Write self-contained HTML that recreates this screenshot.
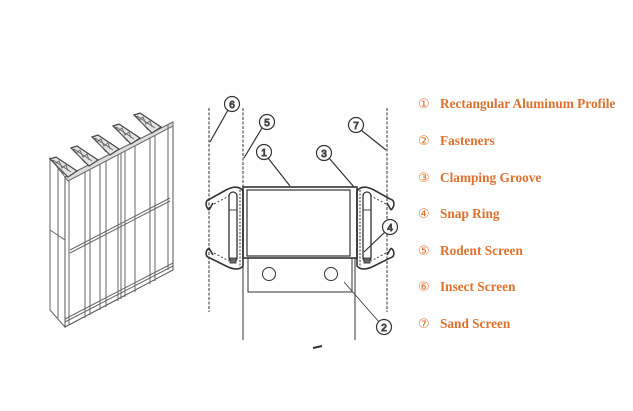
<!DOCTYPE html>
<html><head><meta charset="utf-8"><style>
html,body{margin:0;padding:0;background:#fff;width:633px;height:411px;overflow:hidden}
.lg{position:absolute;left:418px;font-family:"Liberation Serif",serif;font-weight:bold;font-size:13.3px;color:#e0712d;white-space:nowrap}
.lg span{font-weight:normal;display:inline-block;width:22px;font-family:"DejaVu Sans",sans-serif;font-size:13px}
</style></head><body>
<svg width="633" height="411" style="position:absolute;left:0;top:0" fill="none" stroke="#444" stroke-width="1">
<defs>
<g id="tri"><path d="M0,2 L6,0 L27,14 L18,20 Z" fill="#e4e4e4" stroke="#444" stroke-width="1.2"/><path d="M3,3 L21,15 M5,7 L9,4 L12,11 L16,8 L18,14 M2,3 L14,17" stroke="#666" stroke-width="0.9"/></g>
<g id="clamp">
<rect x="229" y="192" width="8" height="70" rx="4" fill="#fff" stroke="#333" stroke-width="1.3"/>
<line x1="229" y1="210" x2="237" y2="210"/>
<path d="M209,210 C205,206 205,200 210,199 L226,190 Q238,184 243,191 L243,266 Q238,272 226,266 L210,258 C205,257 205,251 209,248" stroke="#333" stroke-width="1.6"/>
<path d="M209,210 L213,203 M209,248 L213,255" stroke="#333" stroke-width="1.6"/>
<path d="M214,204 L229,196 M214,253 L229,261" stroke-dasharray="2,2"/>
<line x1="240" y1="190" x2="240" y2="266" stroke-dasharray="2,1.5" stroke="#333"/>
<rect x="230" y="258" width="6" height="5" fill="#666"/>
</g>
</defs>
<!-- left isometric -->
<g stroke="#666" stroke-width="1">
<polygon points="50,158 65,177 65,327 50,310" fill="#fff"/>
<polygon points="65,177 173,122 173,270 65,327" fill="#fff" stroke="#555"/>
<polygon points="65,177 173,122 173,126 68,181" fill="#ddd"/>
<line x1="69" y1="180" x2="69" y2="325"/>
<line x1="168" y1="125" x2="168" y2="270"/>
<line x1="65" y1="322" x2="173" y2="266"/>
<line x1="65" y1="319" x2="173" y2="263"/>
<line x1="70" y1="250" x2="170" y2="198"/>
<line x1="70" y1="253" x2="170" y2="201"/>
<line x1="50" y1="230" x2="65" y2="240"/>
<line x1="85" y1="172" x2="85" y2="318"/><line x1="90" y1="169" x2="90" y2="315"/>
<line x1="100" y1="164" x2="100" y2="310"/><line x1="106" y1="161" x2="106" y2="307"/>
<line x1="118" y1="155" x2="118" y2="301"/><line x1="121" y1="153" x2="121" y2="299"/>
<line x1="125" y1="151" x2="125" y2="297"/>
<line x1="135" y1="146" x2="135" y2="292"/><line x1="150" y1="138" x2="150" y2="284"/>
<line x1="155" y1="135" x2="155" y2="281"/>
<line x1="58" y1="167" x2="58" y2="318"/>
</g>
<use href="#tri" transform="translate(50,157)"/>
<use href="#tri" transform="translate(71,146)"/>
<use href="#tri" transform="translate(92,135)"/>
<use href="#tri" transform="translate(113,124)"/>
<use href="#tri" transform="translate(134,113)"/>
<!-- middle diagram -->
<g stroke="#333">
<line x1="209" y1="108" x2="209" y2="312" stroke-dasharray="3,1.5"/>
<line x1="387" y1="108" x2="387" y2="312" stroke-dasharray="3,1.5"/>
<line x1="243" y1="108" x2="243" y2="188" stroke-dasharray="3,1.5"/>
<line x1="243" y1="188" x2="243" y2="340"/>
<line x1="355" y1="188" x2="355" y2="340"/>
<rect x="243" y="187" width="114" height="71" stroke-width="1.6" fill="#fff"/>
<rect x="247" y="190" width="103" height="66" stroke-width="1.2"/>
<rect x="248" y="258" width="104" height="34"/>
<circle cx="269" cy="274" r="6.5"/><circle cx="331" cy="274" r="6.5"/>
</g>
<use href="#clamp"/>
<use href="#clamp" transform="translate(600,0) scale(-1,1)"/>
<g stroke="#333" stroke-width="1.2">
<line x1="228" y1="110" x2="210" y2="142"/>
<line x1="262" y1="128" x2="244" y2="158"/>
<line x1="268" y1="158" x2="290" y2="186"/>
<line x1="329" y1="158" x2="354" y2="187"/>
<line x1="361" y1="130" x2="386" y2="150"/>
<line x1="385" y1="232" x2="364" y2="252"/>
<line x1="379" y1="322" x2="344" y2="282" stroke-width="0.8"/>
<path d="M313,348 L322,346" stroke-width="2"/>
</g>
<g fill="#fff" stroke="#333" stroke-width="1.2">
<circle cx="232" cy="104" r="7.5"/><circle cx="267" cy="122" r="7.5"/>
<circle cx="264" cy="152" r="7.5"/><circle cx="324" cy="153" r="7.5"/>
<circle cx="356" cy="125" r="7.5"/><circle cx="390" cy="227" r="7.5"/>
<circle cx="384" cy="327" r="7.5"/>
</g>
<g fill="#333" font-family="Liberation Sans,sans-serif" font-size="10" text-anchor="middle">
<text x="232" y="108">6</text><text x="267" y="126">5</text>
<text x="264" y="156">1</text><text x="324" y="157">3</text>
<text x="356" y="129">7</text><text x="390" y="231">4</text>
<text x="384" y="331">2</text>
</g>
</svg>
<div class="lg" style="top:96px"><span>①</span>Rectangular Aluminum Profile</div>
<div class="lg" style="top:133px"><span>②</span>Fasteners</div>
<div class="lg" style="top:170px"><span>③</span>Clamping Groove</div>
<div class="lg" style="top:206px"><span>④</span>Snap Ring</div>
<div class="lg" style="top:243px"><span>⑤</span>Rodent Screen</div>
<div class="lg" style="top:279px"><span>⑥</span>Insect Screen</div>
<div class="lg" style="top:316px"><span>⑦</span>Sand Screen</div>
</body></html>
